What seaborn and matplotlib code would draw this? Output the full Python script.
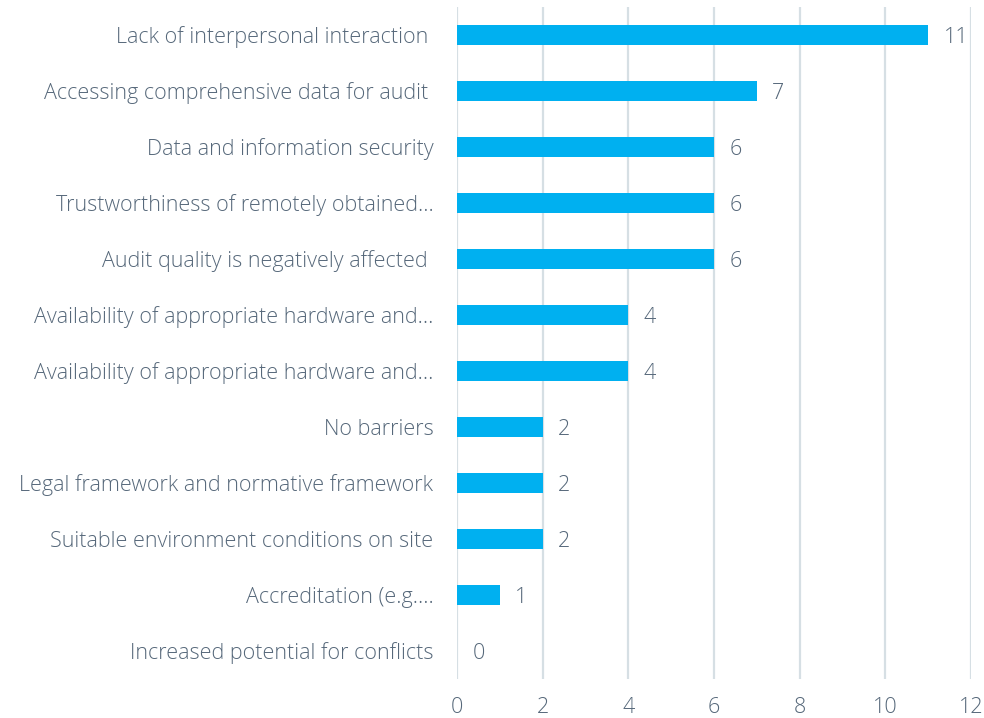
import matplotlib
matplotlib.use("Agg")
import matplotlib.pyplot as plt
import seaborn as sns
import pandas as pd

categories = [
    "Lack of interpersonal interaction ",
    "Accessing comprehensive data for audit ",
    "Data and information security",
    "Trustworthiness of remotely obtained...",
    "Audit quality is negatively affected ",
    "Availability of appropriate hardware and...",
    "Availability of appropriate hardware and...",
    "No barriers",
    "Legal framework and normative framework",
    "Suitable environment conditions on site",
    "Accreditation (e.g....",
    "Increased potential for conflicts",
]
counts = [11, 7, 6, 6, 6, 4, 4, 2, 2, 2, 1, 0]

bar_color = "#00b0f0"
text_color = "#56687a"
grid_color = "#d6dfe4"

sns.set_style("white")
plt.rcParams['font.family'] = ['Open Sans', 'DejaVu Sans']

# duplicate labels -> use positions, then set tick labels
df = pd.DataFrame({"pos": range(len(categories)), "count": counts})

fig = plt.figure(figsize=(9.84, 7.18), dpi=100)
ax = fig.add_axes([457 / 984, 1 - 679 / 718, (971 - 457) / 984, (679 - 7) / 718])

sns.barplot(data=df, x="count", y="pos", orient="h", color=bar_color,
            saturation=1, width=0.36, linewidth=0, ax=ax)

ax.set_yticks(range(len(categories)))
ax.set_yticklabels(categories)
ax.set_xlim(0, 12)
ax.set_xticks(range(0, 13, 2))
ax.set_ylim(len(categories) - 0.5, -0.5)

ax.grid(axis='x', color=grid_color, linewidth=1.6)
ax.set_axisbelow(True)
for s in ax.spines.values():
    s.set_visible(False)

fs = 15.5
ax.tick_params(axis='y', length=0, pad=17, labelsize=fs, labelcolor=text_color)
ax.tick_params(axis='x', length=0, pad=13, labelsize=fs, labelcolor=text_color)
for lab in ax.get_yticklabels() + ax.get_xticklabels():
    lab.set_fontweight('light')

ax.set_xlabel("")
ax.set_ylabel("")

for i, v in enumerate(counts):
    ax.annotate(str(v), xy=(v, i), xytext=(11, 0), textcoords="offset points",
                va='center_baseline', ha='left', fontsize=fs, color=text_color,
                fontweight='light')

fig.savefig("out.png", dpi=100)
